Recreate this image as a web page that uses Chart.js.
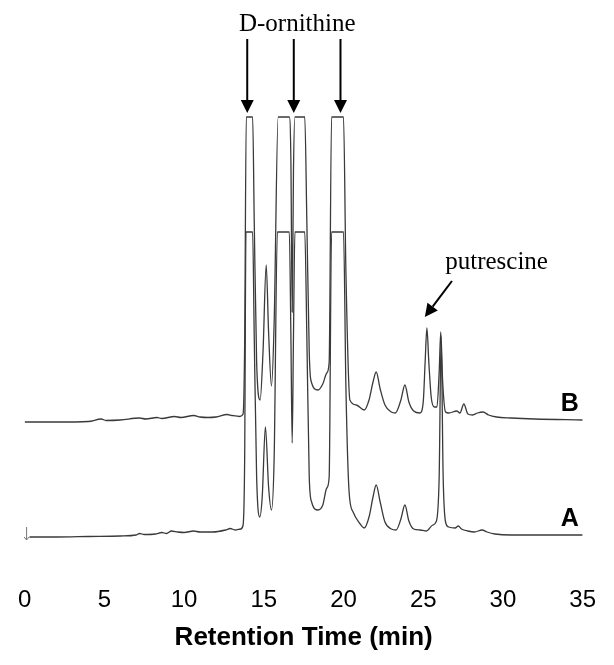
<!DOCTYPE html>
<html>
<head>
<meta charset="utf-8">
<script src="https://cdn.jsdelivr.net/npm/chart.js@4.4.1/dist/chart.umd.min.js"></script>
<style>
  html, body { margin: 0; padding: 0; background: #fff; }
  canvas { display: block; }
</style>
</head>
<body>
<canvas id="chromChart" width="614" height="665"></canvas>
<script>
// retention time (min) and detector signal (relative units, 305 = detector saturation)
const timesA = [0.3, 2.0, 4.0, 6.0, 7.0, 7.2, 7.5, 8.2, 8.6, 8.9, 9.2, 9.6, 10.0, 10.6, 11.0, 11.8, 12.6, 12.9, 13.2, 13.55, 13.7,
  13.8, 13.88, 14.3, 14.4, 14.55, 14.75, 14.9, 15.1, 15.3, 15.48, 15.65, 15.85, 16.6, 16.7, 16.78, 16.86, 16.95, 17.57,
  17.7, 17.85, 18.0, 18.4, 18.7, 18.95, 19.1, 19.25, 20.0, 20.15, 20.35, 20.6, 21.0, 21.3, 21.6, 21.85, 22.05, 22.3,
  22.6, 23.0, 23.3, 23.6, 23.85, 24.1, 24.4, 24.8, 25.2, 25.6, 25.8, 26.0, 26.12, 26.25, 26.4, 26.6, 27.0, 27.2, 27.4,
  27.8, 28.2, 28.7, 29.0, 29.5, 30.5, 32.0, 35.0];
const signalA = [0, 0, 0.5, 1, 2, 3.5, 2.5, 3, 4.5, 3.5, 6, 5, 4.5, 6, 5, 5, 7, 8.5, 7, 8, 12,
  80, 305, 305, 200, 60, 20, 40, 110, 50, 27, 80, 305, 305, 200, 94, 200, 305, 305,
  200, 60, 35, 27, 32, 49, 60, 305, 305, 150, 45, 25, 14, 9, 20, 40, 52, 35,
  15, 8, 7, 18, 32, 16, 8, 7, 6, 12, 15, 60, 200, 60, 15, 10, 9, 11, 8,
  6, 5, 7, 5, 3, 2, 2, 2];

const timesB = [0.0, 2.0, 4.0, 4.8, 5.1, 6.0, 7.2, 7.6, 8.3, 8.6, 9.4, 9.8, 10.6, 11.0, 11.5, 12.0, 12.7, 13.0, 13.5, 13.7,
  13.8, 13.9, 14.3, 14.4, 14.55, 14.77, 14.95, 15.15, 15.3, 15.48, 15.65, 15.9, 16.6, 16.7, 16.78, 16.86, 16.95, 17.57,
  17.7, 17.85, 17.95, 18.4, 18.7, 18.95, 19.1, 19.25, 20.0, 20.15, 20.4, 20.8, 21.3, 21.6, 21.85, 22.05, 22.3,
  22.6, 23.0, 23.25, 23.6, 23.85, 24.1, 24.4, 24.8, 25.0, 25.12, 25.23, 25.35, 25.5, 25.7, 25.86, 26.0, 26.1, 26.22,
  26.4, 26.6, 27.1, 27.3, 27.55, 27.8, 28.1, 28.4, 28.75, 29.1, 29.6, 30.5, 32.0, 35.0];
const signalB = [0, 0, 0.5, 3, 1.5, 2, 4, 3, 4.5, 3.5, 5.5, 4.5, 6.5, 5, 4.5, 5, 7.5, 6.5, 5.5, 8,
  80, 305, 305, 200, 60, 22, 70, 157, 90, 36, 100, 305, 305, 260, 110, 250, 305, 305,
  200, 70, 42, 32, 38, 49, 60, 305, 305, 150, 22, 17, 12, 22, 40, 50, 33,
  17, 10, 9, 22, 37, 20, 11, 9, 20, 60, 94, 60, 25, 15, 15, 50, 90, 40,
  10, 9, 11, 9, 18, 8, 7, 9, 10, 7, 5, 4, 3, 2];

const OFFSET_B = 115;            // vertical stacking of trace B above trace A
const xTicks = [0, 5, 10, 15, 20, 25, 30, 35];
const traceLabels = ['A', 'B'];

const toPoints = (ts, ys, off) => ts.map((t, i) => ({x: t, y: ys[i] + off}));

// hand-drawn style annotations (arrows, compound names, trace labels)
const annotate = {
  id: 'annotate',
  afterDatasetsDraw(chart) {
    const {ctx, scales: {x, y}} = chart;
    ctx.save();
    ctx.fillStyle = '#000';
    ctx.strokeStyle = '#000';

    const arrow = (x1, y1, x2, y2) => {
      const ang = Math.atan2(y2 - y1, x2 - x1);
      const hl = 13, hw = 6.5;
      const bx = x2 - hl * Math.cos(ang), by = y2 - hl * Math.sin(ang);
      ctx.lineWidth = 2;
      ctx.beginPath(); ctx.moveTo(x1, y1); ctx.lineTo(bx, by); ctx.stroke();
      ctx.beginPath();
      ctx.moveTo(x2, y2);
      ctx.lineTo(bx + hw * Math.sin(ang), by - hw * Math.cos(ang));
      ctx.lineTo(bx - hw * Math.sin(ang), by + hw * Math.cos(ang));
      ctx.closePath(); ctx.fill();
    };

    // D-ornithine
    ctx.font = '25px "Liberation Serif", "Times New Roman", serif';
    ctx.textAlign = 'center';
    ctx.textBaseline = 'middle';
    ctx.fillText('D-ornithine', x.getPixelForValue(17.1), 24);
    [13.96, 16.88, 19.81].forEach(t => {
      const px = x.getPixelForValue(t);
      arrow(px, 39, px, 113);
    });

    // putrescine
    ctx.fillText('putrescine', x.getPixelForValue(29.6), 262);
    arrow(x.getPixelForValue(26.8), 281, x.getPixelForValue(25.1), 317);

    // trace labels
    ctx.font = 'bold 25px "Liberation Sans", Arial, sans-serif';
    ctx.fillText(traceLabels[1], x.getPixelForValue(34.2), y.getPixelForValue(OFFSET_B + 18));
    ctx.fillText(traceLabels[0], x.getPixelForValue(34.2), y.getPixelForValue(18));

    // injection mark
    const ix = x.getPixelForValue(0.12);
    ctx.strokeStyle = '#777';
    ctx.lineWidth = 1;
    ctx.beginPath(); ctx.moveTo(ix, y.getPixelForValue(10)); ctx.lineTo(ix, y.getPixelForValue(-3)); ctx.stroke();
    ctx.beginPath(); ctx.moveTo(ix - 2.5, y.getPixelForValue(0)); ctx.lineTo(ix, y.getPixelForValue(-3)); ctx.lineTo(ix + 2.5, y.getPixelForValue(0)); ctx.stroke();
    ctx.restore();
  }
};

new Chart(document.getElementById('chromChart').getContext('2d'), {
  type: 'line',
  data: {
    datasets: [
      {label: 'A', data: toPoints(timesA, signalA, 0)},
      {label: 'B', data: toPoints(timesB, signalB, OFFSET_B)}
    ]
  },
  options: {
    responsive: false,
    animation: false,
    devicePixelRatio: 1,
    layout: {padding: {left: 8, right: 21, top: 0, bottom: 12}},
    elements: {
      line: {borderColor: '#3a3a3a', borderWidth: 1.3, cubicInterpolationMode: 'monotone', fill: false},
      point: {radius: 0}
    },
    plugins: {legend: {display: false}, tooltip: {enabled: false}},
    scales: {
      x: {
        type: 'linear', min: 0, max: 35,
        afterBuildTicks: s => { s.ticks = xTicks.map(v => ({value: v})); },
        afterFit: s => { s.height = 93; },
        grid: {display: false},
        border: {display: false},
        ticks: {padding: 18, color: '#000', font: {family: '"Liberation Sans", Arial, sans-serif', size: 24}},
        title: {display: true, text: 'Retention Time (min)', color: '#000', padding: 0,
          font: {family: '"Liberation Sans", Arial, sans-serif', size: 26, weight: 'bold'}}
      },
      y: {
        type: 'linear', min: -23, max: 537, display: false
      }
    }
  },
  plugins: [annotate]
});
</script>
</body>
</html>
